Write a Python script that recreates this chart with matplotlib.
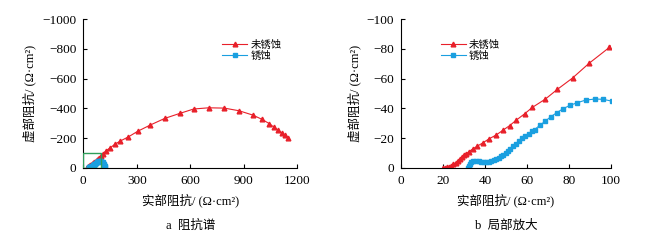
import numpy as np
import matplotlib.pyplot as plt
from matplotlib.patches import Rectangle

plt.rcParams['font.family'] = ['Liberation Serif', 'Noto Sans CJK SC']
plt.rcParams['font.size'] = 8.5

# 未锈蚀: real part and imaginary part (Ω·cm²), Z'' negative
red_x = [20.2, 21, 22, 23, 24, 25, 26, 27, 28, 29, 30, 31, 32.2, 34.2, 36.3,
         39.0, 42.0, 45.4, 48.6, 51.8, 54.9, 58.9, 62.6, 68.8, 74.5, 81.7,
         89.6, 99.2, 110, 127, 150, 178, 206, 253, 306, 375, 457, 540, 619,
         703, 791, 874, 951, 1003, 1044, 1069, 1091, 1112, 1129, 1148]
red_y = [0, -0.1, -0.4, -0.9, -1.6, -2.5, -3.6, -4.8, -6.0, -7.3, -8.5, -9.5,
         -10.8, -12.8, -14.6, -16.9, -19.6, -22.2, -25.4, -28.5, -32.1, -36.4,
         -40.7, -46.3, -52.8, -60.4, -70.3, -80.9, -96, -115, -135, -160, -180,
         -209, -247, -288, -333, -366, -396, -404, -402, -384, -355, -326,
         -297, -274, -254, -236, -220, -204]

# 锈蚀
blue_x = [32.0, 32.2, 32.4, 32.8, 33.5, 34.5, 35.8, 37.0, 38.2, 39.4, 40.6,
          41.8, 43.0, 44.2, 45.4, 46.6, 47.8, 48.8, 49.8, 50.9, 52.0, 53.5,
          54.9, 56.3, 57.6, 59.3, 61.0, 62.3, 63.7, 66.2, 68.8, 71.3, 74.2,
          77.2, 80.4, 83.9, 88.0, 92.4, 96.3, 100.3, 104.5, 108.5, 112, 115.5,
          118, 120, 121.5]
blue_y = [0, -0.5, -1.5, -2.8, -3.8, -4.5, -4.9, -4.7, -4.3, -4.0, -3.8,
          -4.1, -4.7, -5.2, -5.8, -6.8, -7.9, -9.0, -10.1, -11.5, -13.0, -14.7,
          -16.4, -18.1, -19.8, -21.5, -23.1, -24.5, -25.8, -28.8, -31.5, -34.4,
          -37.1, -39.8, -42.0, -43.8, -45.6, -46.3, -46.1, -44.9, -43, -40,
          -35, -28, -20, -12, -5]

red = '#e8202a'
blue = '#1a9fe0'
green = '#2e9e5a'

fig = plt.figure(figsize=(6.58, 2.41), dpi=100)
ax1 = fig.add_axes([0.1266, 0.303, 0.3252, 0.618])
ax2 = fig.add_axes([0.6094, 0.303, 0.3191, 0.618])

panels = [
    (ax1, (0, 1200), [0, 300, 600, 900, 1200], (0, -1000),
     [0, -200, -400, -600, -800, -1000], 'a  阻抗谱', (0.63, 0.89)),
    (ax2, (0, 100), [0, 20, 40, 60, 80, 100], (0, -100),
     [0, -20, -40, -60, -80, -100], 'b  局部放大', (0.17, 0.89)),
]

for ax, xl, xt, yl, yt, sub, leg_pos in panels:
    ax.plot(red_x, red_y, color=red, lw=0.8, marker='^', ms=3.4,
            label='未锈蚀')
    ax.plot(blue_x, blue_y, color=blue, lw=0.8, marker='s', ms=2.8,
            label='锈蚀')
    ax.set_xlim(*xl)
    ax.set_ylim(*yl)
    ax.set_xticks(xt)
    ax.set_yticks(yt)
    ax.spines['top'].set_visible(False)
    ax.spines['right'].set_visible(False)
    ax.tick_params(direction='in', length=3, width=0.8, labelsize=9.5, pad=5)
    ax.set_xlabel('实部阻抗/ (Ω·cm²)', labelpad=5, fontsize=9)
    ax.set_ylabel('虚部阻抗/ (Ω·cm²)', labelpad=4, fontsize=9)
    ax.legend(loc='upper left', bbox_to_anchor=leg_pos, frameon=False,
              handlelength=2.4, handletextpad=0.3, labelspacing=0.1,
              borderaxespad=0, fontsize=7.5)
    ax.text(0.5, -0.39, sub, transform=ax.transAxes, ha='center', va='center',
            fontsize=9)

ax1.add_patch(Rectangle((0, 0), 100, -100, fill=False, edgecolor=green,
                        lw=1.0, zorder=3))

fig.savefig('out.png', dpi=100)
